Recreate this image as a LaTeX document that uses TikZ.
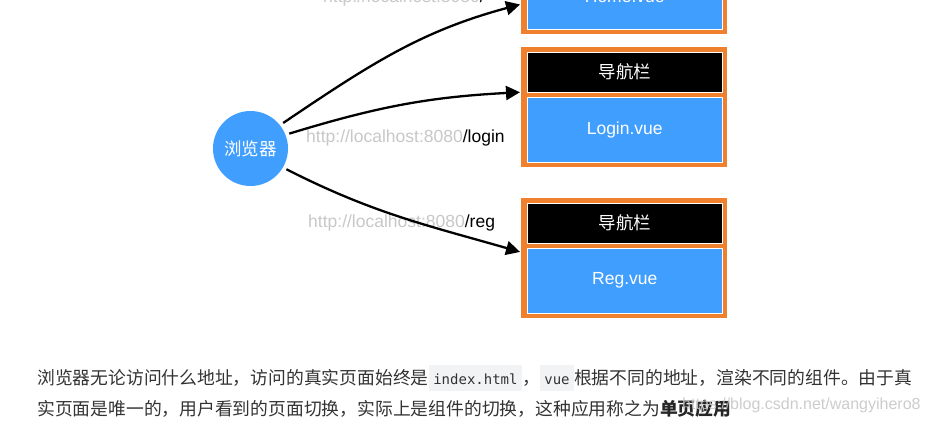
\documentclass[tikz,border=0pt]{standalone}
\usepackage{fontspec}
\setmainfont{Liberation Sans}
\newfontfamily\cjk{Noto Sans CJK SC}
\newfontfamily\codefont{DejaVu Sans Mono}
\usetikzlibrary{arrows.meta}
\definecolor{vblue}{RGB}{64,158,255}
\definecolor{vorange}{RGB}{238,128,46}
\definecolor{urlgray}{RGB}{200,200,200}
\definecolor{txt}{RGB}{51,51,51}
\definecolor{codebg}{RGB}{242,243,244}
\definecolor{wmgray}{RGB}{196,196,196}
\newcommand{\inlinecode}[1]{{\setlength{\fboxsep}{0pt}\colorbox{codebg}{\hspace{4.5pt}\rule[-7pt]{0pt}{26pt}{\codefont\fontsize{14pt}{16pt}\selectfont #1}\hspace{4.5pt}}}}
\begin{document}
\begin{tikzpicture}[x=1pt,y=1pt,
  font=\fontsize{17.5pt}{21pt}\selectfont,
  outerbox/.style={fill=vorange, draw=none, minimum width=206pt, minimum height=120pt, inner sep=0pt, anchor=north west},
  navbar/.style={fill=black, draw=white, line width=1.5pt, minimum width=195pt, minimum height=40pt, inner sep=0pt, text=white, font=\cjk\fontsize{17.5pt}{21pt}\selectfont, anchor=north west},
  vuebox/.style={fill=vblue, draw=white, line width=1.5pt, minimum width=195pt, minimum height=65pt, inner sep=0pt, text=white, anchor=north west},
  urllabel/.style={anchor=base west, inner sep=0pt, text=black},
  conn/.style={draw=black, line width=2.3pt, -{Triangle[length=14pt,width=14pt]}, shorten >=1pt},
  para/.style={anchor=base west, inner sep=0pt, text=txt, font=\cjk\fontsize{17.8pt}{21pt}\selectfont}
]
\clip (0,0) rectangle (930,-424);
\fill[white] (0,0) rectangle (930,-424);

% browser
\node[circle, fill=vblue, minimum size=75pt, inner sep=0pt, outer sep=4pt, text=white, font=\cjk\fontsize{17.5pt}{21pt}\selectfont] (browser) at (250.5,-148.5) {浏览器};

% page boxes
\node[outerbox] (box1) at (521,86) {};
\node[navbar] (nav1) at ([shift={(5.5pt,-4.5pt)}]box1.north west) {导航栏};
\node[vuebox] (vue1) at ([shift={(5.5pt,-49.5pt)}]box1.north west) {Home.vue};

\node[outerbox] (box2) at (521,-47) {};
\node[navbar] (nav2) at ([shift={(5.5pt,-4.5pt)}]box2.north west) {导航栏};
\node[vuebox] (vue2) at ([shift={(5.5pt,-49.5pt)}]box2.north west) {Login.vue};

\node[outerbox] (box3) at (521,-198) {};
\node[navbar] (nav3) at ([shift={(5.5pt,-4.5pt)}]box3.north west) {导航栏};
\node[vuebox] (vue3) at ([shift={(5.5pt,-49.5pt)}]box3.north west) {Reg.vue};

% url labels
\node[urllabel] (url1) at (323,-2) {\textcolor{urlgray}{http://localhost:8080}/};
\node[urllabel] (url2) at (306,-142) {\textcolor{urlgray}{http://localhost:8080}/login};
\node[urllabel] (url3) at (308,-227) {\textcolor{urlgray}{http://localhost:8080}/reg};

% connectors
\draw[conn] (browser.38) to[out=34,in=195] ([yshift=-30pt]box1.west);
\draw[conn] (browser.21) to[out=17,in=183] ([yshift=15pt]box2.west);
\draw[conn] (browser.-30) to[out=-27,in=164] ([yshift=6pt]box3.west);

% paragraph
\node[para] (line1) at (37,-384) {浏览器无论访问什么地址，访问的真实页面始终是\inlinecode{index.html}，\inlinecode{vue}根据不同的地址，渲染不同的组件。由于真};
\node[para] (line2) at (37,-415) {实页面是唯一的，用户看到的页面切换，实际上是组件的切换，这种应用称之为{\bfseries\color{black!85}单页应用}};
\node[anchor=base west, inner sep=0pt, text=wmgray, opacity=0.85, font=\fontsize{16pt}{18pt}\selectfont] (wmark) at (682,-409) {https://blog.csdn.net/wangyihero8};
\end{tikzpicture}
\end{document}
